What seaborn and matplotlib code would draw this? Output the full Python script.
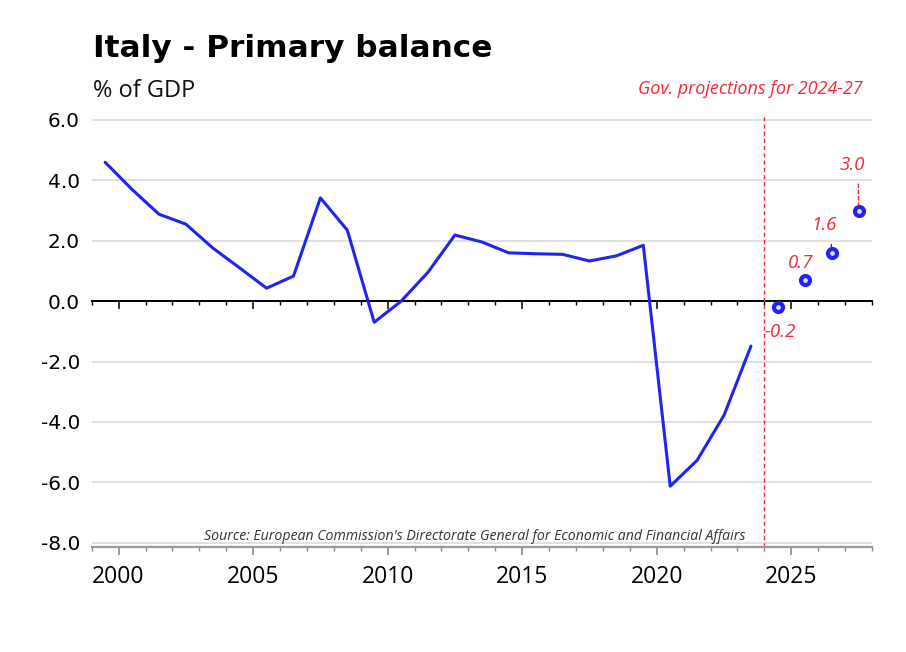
import numpy as np
import pandas as pd
import matplotlib
matplotlib.use("Agg")
import matplotlib.pyplot as plt
import seaborn as sns
from matplotlib.ticker import MultipleLocator

# ---------------- data ----------------
hist_years = list(range(1999, 2024))
hist_values = [4.6, 3.7, 2.88, 2.55, 1.76, 1.1, 0.43, 0.83, 3.42, 2.35,
               -0.7, 0.0, 0.96, 2.19, 1.96, 1.6, 1.57, 1.55, 1.33, 1.5,
               1.85, -6.13, -5.27, -3.78, -1.49]
proj_years = [2024, 2025, 2026, 2027]
proj_values = [-0.2, 0.7, 1.6, 3.0]
y_ticks = [-8, -6, -4, -2, 0, 2, 4, 6]
x_major = [2000, 2005, 2010, 2015, 2020, 2025]

title = "Italy - Primary balance"
subtitle = "% of GDP"
proj_note = "Gov. projections for 2024-27"
source = "Source: European Commission's Directorate General for Economic and Financial Affairs"

# ---------------- style ----------------
sns.set_theme(style="white")
plt.rcParams["font.family"] = ["Open Sans", "DejaVu Sans"]

BLUE = "#2323f0"
RED = "#f02a3a"

hist = pd.DataFrame({"year": np.array(hist_years) + 0.5, "value": hist_values})
proj = pd.DataFrame({"year": np.array(proj_years) + 0.5, "value": proj_values})

fig = plt.figure(figsize=(9.06, 6.52), dpi=100)
ax = fig.add_axes([0.1012, 0.1618, 0.8613, 0.6588])
ax2 = ax.twiny()

# zero line with its own ticks (lower layer)
ax2.set_xlim(1999, 2028)
for s in ["top", "left", "right"]:
    ax2.spines[s].set_visible(False)
ax2.spines["bottom"].set_visible(True)
ax2.spines["bottom"].set_position(("data", 0))
ax2.spines["bottom"].set_color("black")
ax2.spines["bottom"].set_linewidth(1.4)
ax2.xaxis.set_ticks_position("bottom")
ax2.set_xticks(x_major)
ax2.xaxis.set_minor_locator(MultipleLocator(1))
ax2.tick_params(axis="x", which="major", length=5.5, width=1.1, color="black",
                labelbottom=False, labeltop=False, direction="out")
ax2.tick_params(axis="x", which="minor", length=3, width=1.0, color="black",
                direction="out")

ax.set_zorder(ax2.get_zorder() + 1)
ax.patch.set_visible(False)

# data
sns.lineplot(data=hist, x="year", y="value", ax=ax, color=BLUE, linewidth=2.2)
sns.scatterplot(data=proj, x="year", y="value", ax=ax, s=42, color="#dcdcff",
                edgecolor=BLUE, linewidth=3.0, zorder=5)

ax.axvline(proj_years[0], color=RED, lw=1.0, ls=(0, (3, 2.2)), zorder=1)

ax.set_xlim(1999, 2028)
ax.set_ylim(-8.126, 6.1)
ax.set_xlabel("")
ax.set_ylabel("")

ax.set_yticks(y_ticks)
ax.set_yticklabels([f"{v:.1f}" for v in y_ticks], fontsize=14.5,
                   family=["DejaVu Sans"])
ax.set_xticks(x_major)
ax.set_xticklabels([str(v) for v in x_major], fontsize=16.5,
                   family=["Open Sans"])
ax.xaxis.set_minor_locator(MultipleLocator(1))
ax.tick_params(axis="y", length=0, pad=8.4, colors="black")
ax.tick_params(axis="x", which="major", length=6, width=1.2, color="#8a8a8a",
               pad=7, labelcolor="black", bottom=True)
ax.tick_params(axis="x", which="minor", length=3, width=1.0, color="#8a8a8a",
               bottom=True)

for s in ["top", "left", "right"]:
    ax.spines[s].set_visible(False)
ax.spines["bottom"].set_color("#9a9a9a")
ax.spines["bottom"].set_linewidth(1.6)

ax.grid(axis="y", color="#dedede", lw=1.3)
ax.grid(axis="x", visible=False)
for tick_val, gl in zip(ax.get_yticks(), ax.yaxis.get_gridlines()):
    if tick_val == 0:
        gl.set_visible(False)

# value labels
offsets = [(1.8, -21.4), (-3.2, 8.6), (-5.6, 16.3), (-4.2, 29.3)]
connectors = [None, None, (BLUE, 0.78), (RED, 0.72)]
for x, v, off, con in zip(proj["year"], proj["value"], offsets, connectors):
    kw = {}
    if con is not None:
        kw["arrowprops"] = dict(arrowstyle="-", color=con[0], lw=1.0,
                                ls=(0, (2.5, 2)), relpos=(con[1], 0),
                                shrinkA=5, shrinkB=4)
    ax.annotate(f"{v:.1f}", xy=(x, v), xytext=off, textcoords="offset points",
                ha="center", va="baseline", color=RED, fontsize=13.5,
                style="italic", family=["Open Sans"], zorder=6, **kw)

# texts
fig.text(93 / 906, 1 - 56.7 / 652, title, fontsize=22.4, weight="bold",
         family=["DejaVu Sans"], va="baseline", ha="left", color="black")
fig.text(93 / 906, 1 - 97.3 / 652, subtitle, fontsize=17,
         family=["Open Sans"], va="baseline", ha="left", color="#111111")
fig.text(863 / 906, 1 - 94.3 / 652, proj_note, fontsize=13, style="italic",
         family=["Open Sans"], va="baseline", ha="right", color=RED)
fig.text(475 / 906, 1 - 540 / 652, source, fontsize=10.2, style="italic",
         family=["Open Sans"], va="baseline", ha="center", color="#333333")

fig.savefig("out.png", dpi=100, facecolor="white")
